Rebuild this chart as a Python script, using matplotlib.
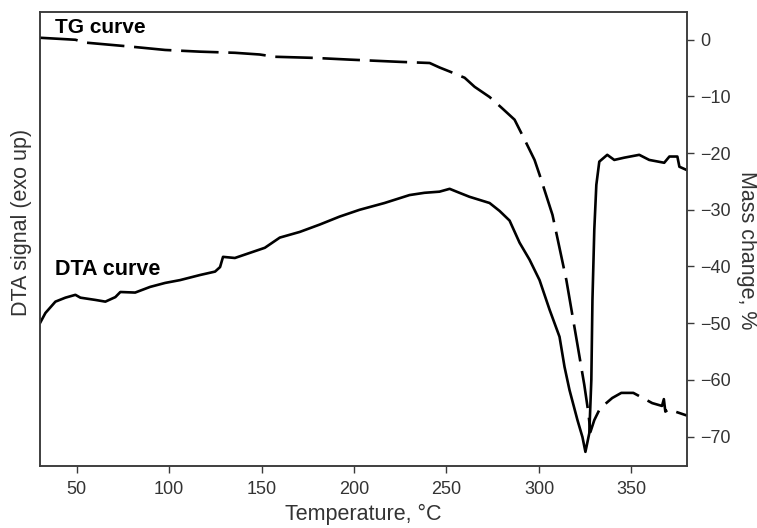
import matplotlib
matplotlib.use("Agg")
import matplotlib.pyplot as plt

plt.rcParams['font.family'] = ['Liberation Sans', 'DejaVu Sans']
plt.rcParams['lines.scale_dashes'] = False

# DTA curve (arbitrary units, drawn on same scale as mass axis)
dta_temp = [30.4, 33.2, 38.6, 44.0, 49.4, 52.1, 60.2, 65.6, 71.0, 73.7, 81.7, 89.8,
            97.9, 106.0, 116.8, 124.9, 127.6, 129.2, 135.6, 143.7, 151.8, 159.9,
            170.7, 181.5, 192.2, 203.0, 216.5, 230.0, 238.1, 246.2, 251.7, 257.0,
            262.4, 273.3, 278.7, 284.1, 289.5, 294.9, 300.3, 305.7, 311.1, 313.8,
            316.5, 320.8, 323.5, 325.1, 327.2, 328.3, 328.9, 329.9, 331.0, 332.6,
            336.9, 340.7, 346.1, 354.2, 359.6, 367.7, 370.5, 374.8, 375.9, 380.0]
dta_signal = [-49.9, -48.2, -46.2, -45.5, -45.0, -45.5, -45.9, -46.2, -45.4, -44.5,
              -44.6, -43.6, -42.9, -42.4, -41.5, -40.9, -40.1, -38.3, -38.5, -37.6,
              -36.7, -34.9, -33.9, -32.6, -31.2, -30.0, -28.8, -27.4, -27.0, -26.8,
              -26.3, -27.0, -27.7, -28.8, -30.2, -31.9, -35.8, -38.8, -42.4, -47.6,
              -52.4, -57.7, -61.8, -67.1, -70.1, -72.7, -69.4, -60.0, -45.9, -33.5,
              -25.6, -21.5, -20.3, -21.2, -20.8, -20.3, -21.2, -21.7, -20.6, -20.6,
              -22.4, -23.0]

# TG curve (mass change, %)
tg_temp = [30.4, 49.4, 54.8, 79.0, 97.9, 116.8, 135.6, 149.0, 157.1, 178.6, 197.4,
           224.8, 240.9, 246.3, 251.7, 259.8, 265.2, 273.3, 279.8, 286.8, 292.2,
           297.6, 300.3, 307.3, 314.8, 320.8, 324.5, 326.7, 327.8, 329.9, 332.6,
           335.3, 339.6, 344.5, 351.0, 361.2, 366.5, 367.5, 368.3, 370.0, 380.0]
tg_mass = [0.35, 0.0, -0.5, -1.2, -1.8, -2.1, -2.3, -2.6, -3.0, -3.2, -3.5, -3.9,
           -4.1, -4.9, -5.6, -6.7, -8.3, -10.1, -12.0, -14.1, -17.6, -21.2, -23.8,
           -30.9, -42.4, -53.8, -60.9, -65.8, -69.2, -67.1, -65.3, -64.4, -63.2,
           -62.3, -62.3, -64.1, -64.6, -63.4, -65.6, -65.2, -66.3]

mass_ticks = [0, -10, -20, -30, -40, -50, -60, -70]
temp_ticks = [50, 100, 150, 200, 250, 300, 350]

fig = plt.figure(figsize=(7.57, 5.28), dpi=100)
ax = fig.add_axes([0.0522, 0.1174, 0.8553, 0.8599])
ax2 = ax.twinx()

spine_col = '#3a3a3a'
text_col = '#333333'

ax.plot(dta_temp, dta_signal, color='black', lw=1.9, solid_joinstyle='round')
ax2.plot(tg_temp, tg_mass, color='black', lw=1.9, dashes=(27, 7))

for a in (ax, ax2):
    a.set_xlim(30, 380)
    a.set_ylim(-75.2, 4.9)
    for s in a.spines.values():
        s.set_color(spine_col)
        s.set_linewidth(1.1)

ax.set_yticks([])
ax.set_xticks(temp_ticks)
ax.tick_params(axis='x', direction='out', length=4.8, width=1.0, color=spine_col,
               labelsize=13, labelcolor=text_col, pad=6)
ax2.set_yticks(mass_ticks)
ax2.tick_params(axis='y', direction='out', length=4.8, width=1.0, color=spine_col,
                labelsize=13, labelcolor=text_col, pad=5)

ax.set_xlabel('Temperature, °C', fontsize=15.5, color=text_col, labelpad=4)
fig.text(22 / 757, 1 - 222 / 528, 'DTA signal (exo up)', rotation=90,
         ha='center', va='center', fontsize=15.5, color=text_col)
fig.text(746 / 757, 1 - 250 / 528, 'Mass change, %', rotation=270,
         ha='center', va='center', fontsize=15.5, color=text_col)

ax.text(0.024, 0.953, 'TG curve', transform=ax.transAxes, fontsize=15,
        fontweight='bold', va='baseline', ha='left')
ax.text(0.024, 0.421, 'DTA curve', transform=ax.transAxes, fontsize=15.5,
        fontweight='bold', va='baseline', ha='left')

fig.savefig('out.png', dpi=100)
